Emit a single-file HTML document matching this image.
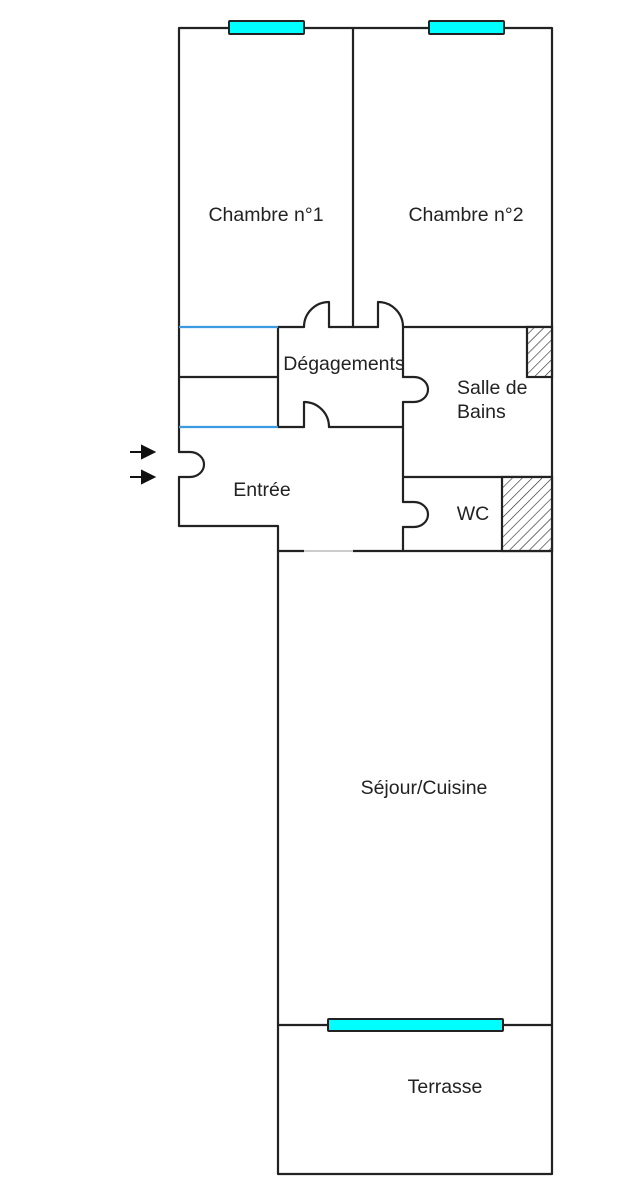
<!DOCTYPE html>
<html><head><meta charset="utf-8"><style>
body{margin:0;background:#fff;}
svg{display:block;}
text{font-family:"Liberation Sans",sans-serif;font-size:19.5px;fill:#222;}
</style></head><body>
<svg width="622" height="1200" viewBox="0 0 622 1200" xmlns="http://www.w3.org/2000/svg">
<defs>
<pattern id="h" patternUnits="userSpaceOnUse" width="7" height="7" patternTransform="rotate(45)">
<rect width="7" height="7" fill="#fff"/><line x1="0" y1="0" x2="0" y2="7" stroke="#222" stroke-width="1.2"/>
</pattern>
</defs>
<g fill="none" stroke="#222" stroke-width="2.2" stroke-linejoin="round" stroke-linecap="round">
<path d="M179,427 V28 H552 V1174 H278 V551"/>
<path d="M353,28 V327"/>
<path d="M278,327 H304 M329,327 H378 M403,327 H552"/>
<path d="M329,327 V302 A25,25 0 0 0 304,327"/>
<path d="M378,327 V302 A25,25 0 0 1 403,327"/>
<path d="M179,377 H278"/>
<path d="M278,327 V427 H304 M329,427 H403"/>
<path d="M304,427 V402 A25,25 0 0 1 329,427"/>
<path d="M179,427 V452 M179,477 V526 H278 V551"/>
<path d="M179,452 H190 A14,12.5 0 0 1 190,477 H179"/>
<path d="M403,327 V377 M403,402 V502 M403,527 V551"/>
<path d="M403,377 H414 A14,12.5 0 0 1 414,402 H403"/>
<path d="M403,502 H414 A14,12.5 0 0 1 414,527 H403"/>
<path d="M403,477 H552"/>
<path d="M278,551 H304 M353,551 H552"/>
<path d="M278,1025 H552"/>
</g>
<line x1="304" y1="551" x2="353" y2="551" stroke="#ccc" stroke-width="2"/>
<line x1="179" y1="327" x2="278" y2="327" stroke="#3a9be0" stroke-width="2.2"/>
<line x1="179" y1="427" x2="278" y2="427" stroke="#3a9be0" stroke-width="2.2"/>
<rect x="527" y="327" width="25" height="50" fill="url(#h)" stroke="#222" stroke-width="2.2"/>
<rect x="502" y="477" width="50" height="74" fill="url(#h)" stroke="#222" stroke-width="2.2"/>
<g fill="#00ffff" stroke="#222" stroke-width="2">
<rect x="229" y="21" width="75" height="13" rx="1"/>
<rect x="429" y="21" width="75" height="13" rx="1"/>
<rect x="328" y="1019" width="175" height="12" rx="1"/>
</g>
<g stroke="#111" stroke-width="2" fill="#111">
<line x1="130" y1="452" x2="143" y2="452"/><polygon points="142,446 154,452 142,458"/>
<line x1="130" y1="477" x2="143" y2="477"/><polygon points="142,471 154,477 142,483"/>
</g>
<text x="266" y="221" text-anchor="middle">Chambre n°1</text>
<text x="466" y="221" text-anchor="middle">Chambre n°2</text>
<text x="344" y="370" text-anchor="middle">Dégagements</text>
<text x="457" y="394">Salle de</text>
<text x="457" y="418">Bains</text>
<text x="262" y="496" text-anchor="middle">Entrée</text>
<text x="473" y="520" text-anchor="middle">WC</text>
<text x="424" y="794" text-anchor="middle">Séjour/Cuisine</text>
<text x="445" y="1093" text-anchor="middle">Terrasse</text>
</svg>
</body></html>
